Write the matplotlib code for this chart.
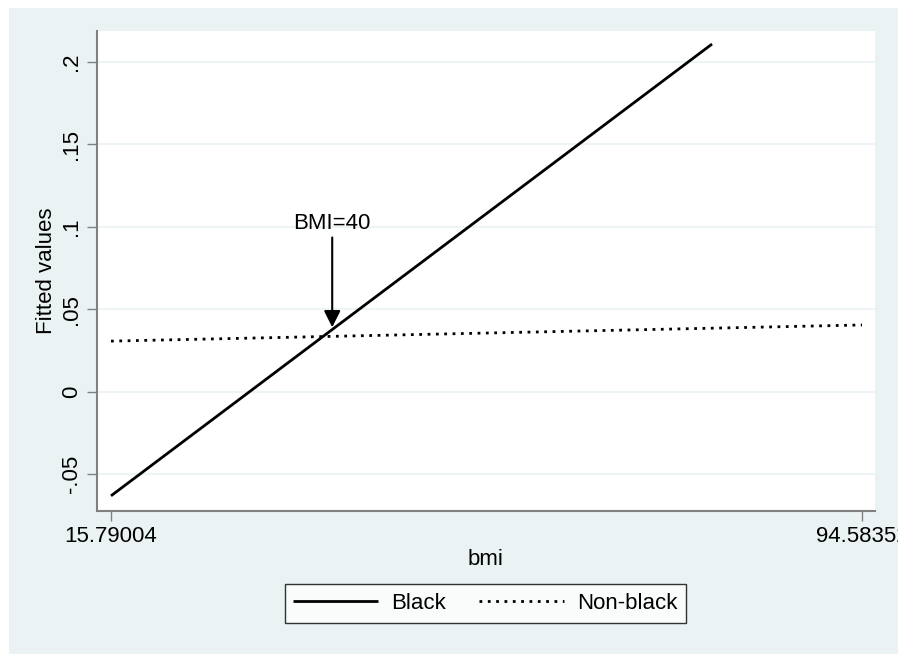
# fitted values of bmi for black / non-black, Stata-like look
import matplotlib.pyplot as plt
from matplotlib.patches import Rectangle
from matplotlib.transforms import Bbox, TransformedBbox

plt.rcParams['font.family'] = ['Liberation Sans', 'DejaVu Sans']

# data (linear fits, end points)
black_bmi = [15.79004, 78.85]
black_fit = [-0.0633, 0.2109]
nonblack_bmi = [15.79004, 94.58352]
nonblack_fit = [0.0306, 0.0404]

xticks = [15.79004, 94.58352]
xtick_labels = ['15.79004', '94.58352']
yticks = [-0.05, 0, 0.05, 0.1, 0.15, 0.2]
ytick_labels = ['-.05', '0', '.05', '.1', '.15', '.2']

arrow_x = 39.0          # where the arrow points
arrow_tip = 0.039
arrow_start = 0.0935
note_y = 0.102
note = 'BMI=40'

bg = '#EAF2F3'
axcol = '#808080'

fig = plt.figure(figsize=(9.03, 6.54), dpi=100, facecolor='white')
outer = Rectangle((9/903, 0), 889/903, 646/654, transform=fig.transFigure,
                  facecolor=bg, edgecolor='none', zorder=-10)
fig.patches.append(outer)

ax = fig.add_axes([97/903, (654-511)/654, (875-97)/903, (511-31)/654])
ax.set_facecolor('white')

ax.plot(black_bmi, black_fit, color='black', lw=2, label='Black',
        solid_capstyle='butt', zorder=3)
ax.plot(nonblack_bmi, nonblack_fit, color='black', lw=2, ls=(0, (1, 2)),
        label='Non-black', zorder=3)

ax.annotate('', xy=(arrow_x, arrow_tip), xytext=(arrow_x, arrow_start),
            arrowprops=dict(arrowstyle='-|>', color='black', lw=1.5,
                            mutation_scale=25, shrinkA=0, shrinkB=0), zorder=4)
ax.text(arrow_x, note_y, note, ha='center', va='center', fontsize=16)

ax.set_xlim(14.321, 95.947)
ax.set_ylim(-0.0725, 0.2188)
ax.set_xticks(xticks)
ax.set_xticklabels(xtick_labels, fontsize=16)
ax.set_yticks(yticks)
ax.set_yticklabels(ytick_labels, fontsize=16, rotation=90, va='center')
ax.grid(axis='y', color=bg, lw=1.2)
ax.set_axisbelow(True)

for s in ['top', 'right']:
    ax.spines[s].set_visible(False)
for s in ['left', 'bottom']:
    ax.spines[s].set_color(axcol)
    ax.spines[s].set_linewidth(1.5)
ax.tick_params(axis='both', direction='out', length=7, width=1, color=axcol,
               pad=4)

ax.set_xlabel('bmi', fontsize=16, labelpad=1.5)
ax.set_ylabel('Fitted values', fontsize=16, labelpad=2.5)

# cut the right tick label at the edge of the shaded region
clip = TransformedBbox(Bbox([[9/903, 0], [898/903, 1]]), fig.transFigure)
for t in ax.xaxis.get_major_ticks():
    t.label1.set_clip_box(clip)
    t.label1.set_clip_on(True)

leg = ax.legend(loc='center', bbox_to_anchor=(485.5/903, (654-603.5)/654),
                bbox_transform=fig.transFigure, ncol=2, fontsize=16,
                frameon=True, fancybox=False, edgecolor='black',
                handlelength=3.8, handletextpad=0.6, columnspacing=1.5,
                borderpad=0.4)
leg.get_frame().set_linewidth(1)

plt.savefig('out.png', dpi=100, facecolor='white')
